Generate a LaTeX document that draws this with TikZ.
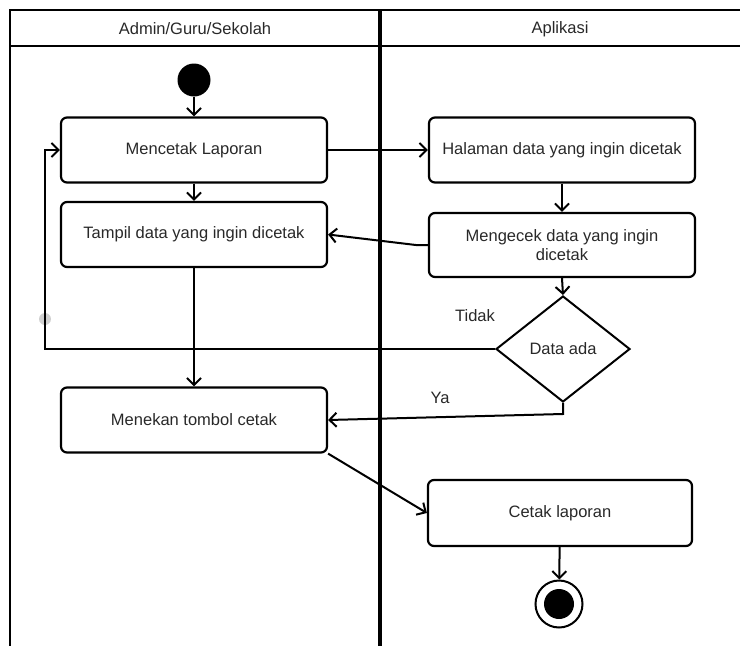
\documentclass[tikz,border=0pt]{standalone}
\usepackage{fontspec}
\setmainfont{Liberation Sans}
\usetikzlibrary{arrows.meta,shapes.geometric}

\definecolor{txtgray}{RGB}{40,40,40}
\definecolor{handlegray}{RGB}{208,208,208}

\tikzset{
  activity/.style={draw, line width=2.2pt, rounded corners=6pt, minimum width=266pt, minimum height=65pt,
    inner sep=0pt, align=center, text=txtgray, font=\fontsize{16.5}{18.5}\selectfont},
  decision/.style={draw, diamond, line width=2pt, minimum width=134pt, minimum height=106pt,
    inner sep=0pt, text=txtgray, font=\fontsize{16.5}{18.5}\selectfont},
  flow/.style={line width=2pt, -{Straight Barb[length=7pt,width=14pt,line width=2pt]}},
  label/.style={inner sep=0.75pt, text=txtgray, font=\fontsize{16.5}{18.5}\selectfont},
  lane/.style={line width=2.2pt},
}

\begin{document}
\begin{tikzpicture}[x=1pt,y=1pt,yscale=-1,xscale=1]
  \useasboundingbox (0,0) rectangle (740,646);

  %Shape: Swimlanes
  \draw [lane] (740,10) -- (10,10) -- (10,646) ;
  \draw [lane] (10,46) -- (740,46) ;
  \draw [line width=3.2pt] (380,10) -- (380,646) ;

  % Text Node
  \node [label] (laneadmin) at (195,29) {Admin/Guru/Sekolah};
  % Text Node
  \node [label] (laneapp) at (560,29) {Aplikasi};

  %Shape: Initial state
  \node [circle, fill=black, minimum size=33pt, inner sep=0pt] (start) at (194,80) {};

  %Shape: Activities
  \node [activity] (mencetak) at (194,150) {Mencetak Laporan};
  \node [activity] (halaman) at (562,150) {Halaman data yang ingin dicetak};
  \node [activity] (tampil) at (194,234.5) {Tampil data yang ingin dicetak};
  \node [activity, minimum height=64pt] (mengecek) at (562,245) {Mengecek data yang ingin\\dicetak};
  \node [decision] (dataada) at (563,349) {Data ada};
  \node [activity] (menekan) at (194,420) {Menekan tombol cetak};
  \node [activity, minimum width=264pt, minimum height=66pt] (cetak) at (560,513) {Cetak laporan};

  %Shape: Final state
  \node [circle, draw, line width=2pt, minimum size=47pt, inner sep=0pt] (stop) at (559,604) {};
  \node [circle, fill=black, minimum size=30pt, inner sep=0pt] (stopdot) at (stop.center) {};

  %Shape: waypoint handle
  \node [circle, fill=handlegray, minimum size=12pt, inner sep=0pt] (handle) at (45,319) {};
  \coordinate (loopturn) at (45,150);

  %Straight Lines
  \draw [flow] (start) -- (mencetak) ;
  \draw [flow] (mencetak) -- (halaman) ;
  \draw [flow] (mencetak) -- (tampil) ;
  \draw [flow] (halaman) -- (mengecek) ;
  \draw [flow] (mengecek.west) -- ([xshift=-12pt]mengecek.west) -- (tampil.east) ;
  \draw [flow] (mengecek.south) -- (dataada.north) ;
  \draw [flow] (dataada.west) -| (loopturn) -- (mencetak.west) ;
  \draw [flow] (tampil) -- (menekan) ;
  \draw [flow] (dataada.south) -- ++(0,11) -- (menekan.east) ;
  \draw [flow] (menekan.south east) -- (cetak.west) ;
  \draw [flow] (cetak) -- (stop) ;

  % Text Node
  \node [label] (tidak) at (475,316) {Tidak};
  % Text Node
  \node [label] (ya) at (440,398) {Ya};
\end{tikzpicture}
\end{document}
